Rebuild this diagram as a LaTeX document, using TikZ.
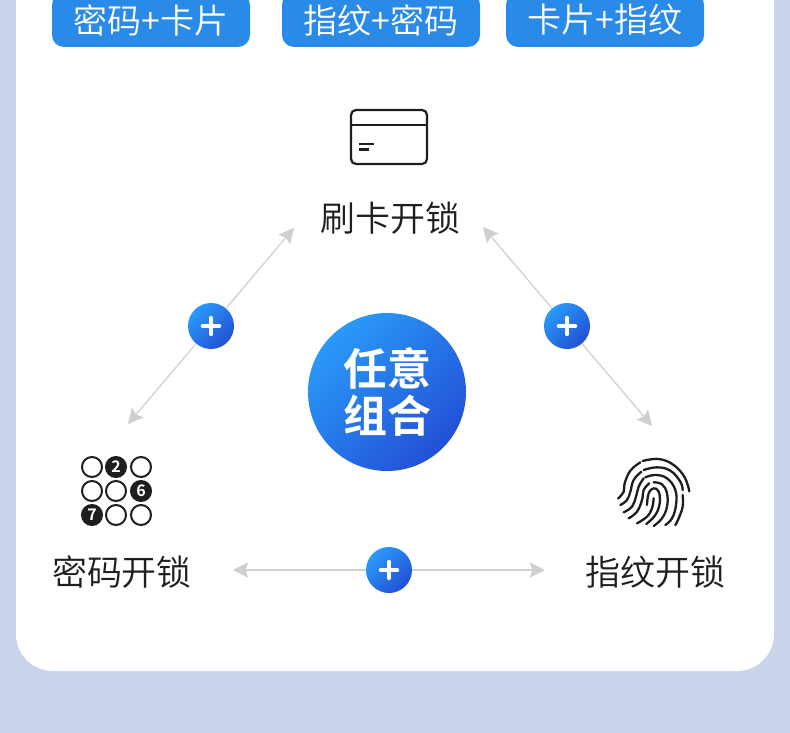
\documentclass[tikz,border=0pt]{standalone}
\usepackage{fontspec}
\setmainfont{Noto Sans CJK SC}
\newfontfamily\cjklight{Noto Sans CJK SC DemiLight}
\newfontfamily\cjkbold{Noto Sans CJK SC Bold}
\definecolor{pagebg}{HTML}{C9D4EA}
\definecolor{btn}{HTML}{2A8AE8}
\definecolor{ink}{HTML}{1E1E1E}
\definecolor{arrowgrey}{HTML}{CFCFCF}
\definecolor{blueA}{HTML}{2A9AF8}
\definecolor{blueB}{HTML}{2250D6}
\usetikzlibrary{arrows.meta}
\tikzset{
  btnbox/.style={rectangle,fill=btn,rounded corners=12pt,minimum width=198pt,minimum height=54pt,inner sep=0pt,text=white,font=\cjklight\fontsize{34}{34}\selectfont},
  label/.style={inner sep=0pt,text=ink,font=\cjklight\fontsize{35}{35}\selectfont},
  plusnode/.style={circle,minimum size=46pt,inner sep=0pt,shade,left color=blueA,right color=blueB,shading angle=45},
  linkline/.style={draw=arrowgrey,line width=1.2pt,-{Stealth[inset=2.5pt,length=15pt,width=15pt,color=arrowgrey]}},
  crossline/.style={draw=white,line width=3.4pt,line cap=round},
  keyring/.style={circle,draw=ink,line width=2pt,minimum size=20pt,inner sep=0pt},
  keyfull/.style={circle,draw=ink,fill=ink,line width=2pt,minimum size=20pt,inner sep=0pt,text=white,font=\cjkbold\fontsize{16}{16}\selectfont},
  ridge/.style={draw=ink,line width=2.3pt,line cap=round}
}
\begin{document}
\begin{tikzpicture}[x=1pt,y=-1pt]
\useasboundingbox (0,0) rectangle (790,733);
\clip (0,0) rectangle (790,733);
\fill[pagebg] (0,0) rectangle (790,733);
\fill[white,rounded corners=37pt] (16,-60) rectangle (774,671);
% buttons
\node[btnbox] (b1) at (151,20) {密码+卡片};
\node[btnbox] (b2) at (381,20) {指纹+密码};
\node[btnbox] (b3) at (605,20) {卡片+指纹};
% card
\draw[ink,line width=2.2pt,rounded corners=5pt] (351,110) rectangle (427,164);
\draw[ink,line width=2.2pt] (351,125) -- (427,125);
\draw[ink,line width=2.2pt] (359,144) -- (374,144);
\draw[ink,line width=2.2pt] (359,149.5) -- (369,149.5);
% labels
\node[label] (lcard) at (390,218) {刷卡开锁};
\node[label] (lpin) at (122,572) {密码开锁};
\node[label] (lfp) at (655,572) {指纹开锁};
% keypad
\node[keyring] (k1) at (92,467) {};
\node[keyfull] (k2) at (116,467) {2};
\node[keyring] (k3) at (141,467) {};
\node[keyring] (k4) at (92,491) {};
\node[keyring] (k5) at (116,491) {};
\node[keyfull] (k6) at (141,491) {6};
\node[keyfull] (k7) at (92,515) {7};
\node[keyring] (k8) at (116,515) {};
\node[keyring] (k9) at (141,515) {};
% fingerprint
\begin{scope}[shift={(612,450)},x=0.3333pt,y=-0.3333pt]
\draw[ridge] plot[smooth,tension=0.7] coordinates {(232,124)(218,82)(185,45)(140,27)(92,33)};
\draw[ridge] plot[smooth,tension=0.7] coordinates {(85,37)(55,62)(38,100)(35,125)(18,146)};
\draw[ridge] plot[smooth,tension=0.7] coordinates {(95,60)(135,52)(175,62)(205,95)(212,120)};
\draw[ridge] plot[smooth,tension=0.7] coordinates {(88,65)(65,90)(55,125)(45,150)(25,165)};
\draw[ridge] plot[smooth,tension=0.7] coordinates {(100,82)(130,75)(165,85)(190,120)(192,165)(180,205)(160,225)};
\draw[ridge] plot[smooth,tension=0.7] coordinates {(95,85)(80,110)(72,140)(60,170)(35,187)};
\draw[ridge] plot[smooth,tension=0.7] coordinates {(125,97)(150,103)(165,130)(165,170)(150,205)(125,228)};
\draw[ridge] plot[smooth,tension=0.7] coordinates {(112,100)(95,120)(90,150)(75,185)(50,205)};
\draw[ridge] plot[smooth,tension=0.7] coordinates {(105,165)(110,130)(125,115)(140,125)(143,160)(130,195)(103,222)};
\draw[ridge] plot[smooth,tension=0.7] coordinates {(125,145)(120,175)(105,200)(75,220)};
\draw[ridge] plot[smooth,tension=0.7] coordinates {(212,135)(212,170)(200,205)(190,225)};
\end{scope}
% centre
\node[circle,minimum size=158pt,inner sep=0pt,shade,left color=blueA,right color=blueB,shading angle=45,text=white,align=center,font=\cjkbold\fontsize{44}{47}\selectfont] (hub) at (387,392) {任意\\组合};
% plus nodes
\node[plusnode] (pl) at (211,326) {};
\node[plusnode] (pr) at (567,326) {};
\node[plusnode] (pb) at (389,570) {};
\foreach \n in {pl,pr,pb}{
  \draw[crossline] ([xshift=-8.5pt]\n.center) -- ([xshift=8.5pt]\n.center);
  \draw[crossline] ([yshift=-8.5pt]\n.center) -- ([yshift=8.5pt]\n.center);
}
% connector ends
\coordinate (e1) at (294,228);
\coordinate (e2) at (128,424);
\coordinate (e3) at (483,227);
\coordinate (e4) at (652,426);
\coordinate (e5) at (233,570);
\coordinate (e6) at (545,570);
\draw[linkline] (pl) -- (e1);
\draw[linkline] (pl) -- (e2);
\draw[linkline] (pr) -- (e3);
\draw[linkline] (pr) -- (e4);
\draw[linkline] (pb) -- (e5);
\draw[linkline] (pb) -- (e6);
\end{tikzpicture}
\end{document}
